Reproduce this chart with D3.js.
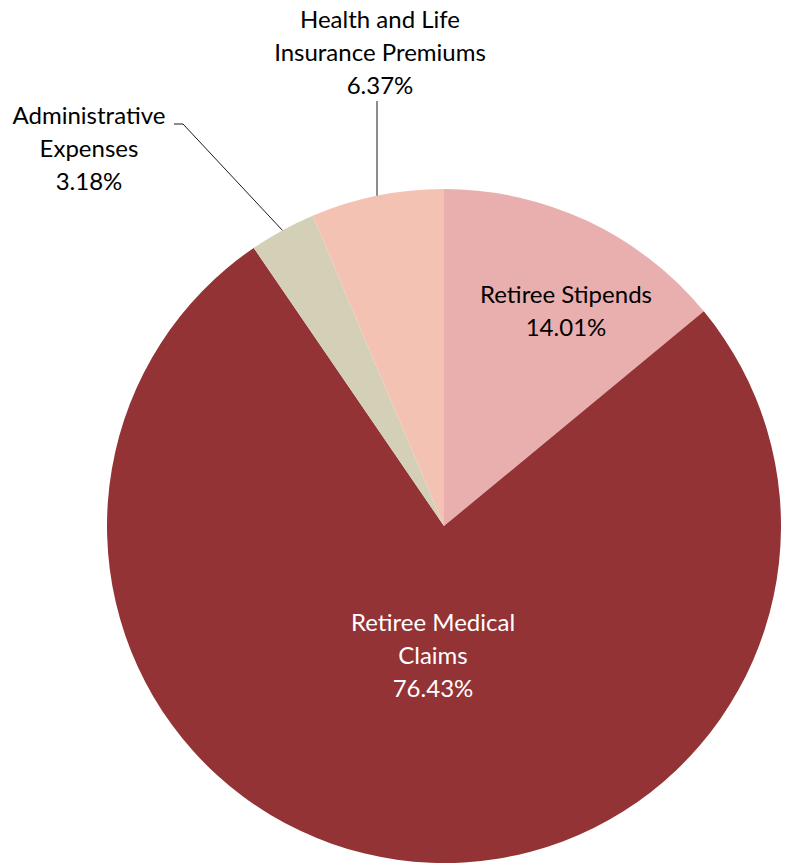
<!DOCTYPE html>
<html>
<head>
<meta charset="utf-8">
<script src="https://cdn.jsdelivr.net/npm/d3@7"></script>
<style>
  body { margin: 0; background: #fff; }
  svg { display: block; font-family: Lato, "Open Sans", sans-serif; }
</style>
</head>
<body>
<div id="chart"></div>
<script>
// data
const categories = ['Retiree Stipends', 'Retiree Medical Claims', 'Administrative Expenses', 'Health and Life Insurance Premiums'];
const values = [14.01, 76.43, 3.18, 6.37];
const labelLines = [
  ['Retiree Stipends', '14.01%'],
  ['Retiree Medical', 'Claims', '76.43%'],
  ['Administrative', 'Expenses', '3.18%'],
  ['Health and Life', 'Insurance Premiums', '6.37%']
];
const colors = ['#E9AEAE', '#933335', '#D4D0B8', '#F3C2B3'];

// layout
const width = 785, height = 865;
const cx = 444, cy = 526, radius = 337;
const lineH = 33;
// label anchor (centre of text block), text colour, leader end point
const labelLayout = [
  { x: 566, y: 311, fill: '#000', leader: null },
  { x: 433, y: 656, fill: '#fff', leader: null },
  { x: 89, y: 149, fill: '#000', leader: [[174, 124], [183, 124]] },
  { x: 380, y: 53, fill: '#000', leader: [[377, 101]] }
];

const svg = d3.select('#chart')
  .append('svg')
  .attr('width', width)
  .attr('height', height);

const pie = d3.pie().sort(null).value(d => d);
const arcs = pie(values);
const arc = d3.arc().innerRadius(0).outerRadius(radius);

const g = svg.append('g').attr('transform', `translate(${cx},${cy})`);

g.selectAll('path.slice')
  .data(arcs)
  .enter()
  .append('path')
    .attr('class', 'slice')
    .attr('d', arc)
    .attr('fill', (d, i) => colors[i]);

// leader lines from outer edge of slice to label
const edge = d3.arc().innerRadius(radius).outerRadius(radius);
arcs.forEach((d, i) => {
  const lay = labelLayout[i];
  if (!lay.leader) return;
  const c = edge.centroid(d);
  const pts = [[c[0] + cx, c[1] + cy]].concat(lay.leader.slice().reverse());
  svg.append('path')
    .attr('d', d3.line()(pts))
    .attr('fill', 'none')
    .attr('stroke', '#1a1a1a')
    .attr('stroke-width', 1);
});

// labels
labelLines.forEach((lines, i) => {
  const lay = labelLayout[i];
  const t = svg.append('text')
    .attr('text-anchor', 'middle')
    .attr('font-size', 24)
    .attr('fill', lay.fill);
  const y0 = lay.y - (lines.length - 1) * lineH / 2;
  lines.forEach((s, k) => {
    t.append('tspan')
      .attr('x', lay.x)
      .attr('y', y0 + k * lineH)
      .attr('dy', '0.35em')
      .text(s);
  });
});
</script>
</body>
</html>
